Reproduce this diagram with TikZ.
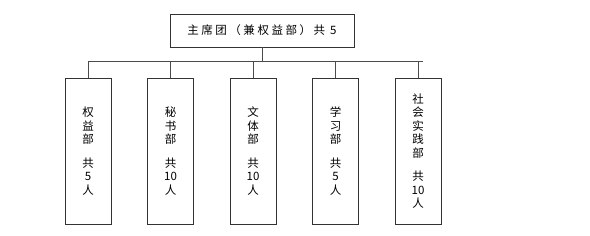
\documentclass[tikz,border=0pt]{standalone}
\usepackage{fontspec}
\newfontfamily\cjk[LetterSpace=22]{Noto Sans CJK SC}
\newfontfamily\cjkcol{Noto Sans CJK SC}
\tikzset{
  headbox/.style={draw=black!80,line width=0.8pt,minimum width=184pt,minimum height=33pt,
    inner sep=0pt,font=\cjk\fontsize{11.5}{13}\selectfont},
  deptbox/.style={draw=black!80,line width=0.8pt,minimum width=46pt,minimum height=146pt,
    inner sep=0pt,align=center,font=\cjkcol\fontsize{11.5}{13.5}\selectfont},
  link/.style={draw=black!70,line width=0.8pt}
}
\begin{document}
\begin{tikzpicture}[x=1pt,y=-1pt]
  \useasboundingbox (0,0) rectangle (590,236);
  % head of the tree
  \node[headbox] (head) at (262,30.5) {主席团（兼权益部）共 5};
  \coordinate (busL) at (88,61);
  \coordinate (busR) at (423,61);
  \draw[link] (busL) -- (busR);
  \draw[link] (head.south) -- (head.south |- busL);

  % departments
  \foreach \name/\xc/\txt in {
      qy/88/{权\\益\\部\\[10pt]共\\5\\人},
      ms/170.5/{秘\\书\\部\\[10pt]共\\10\\人},
      wt/253/{文\\体\\部\\[10pt]共\\10\\人},
      xx/335.5/{学\\习\\部\\[10pt]共\\5\\人},
      sh/418/{社\\会\\实\\践\\部\\[10pt]共\\10\\人}} {
    \node[deptbox] (\name) at (\xc,151) {\txt};
    \draw[link] (\name.north) -- (\name.north |- busL);
  }
\end{tikzpicture}
\end{document}
